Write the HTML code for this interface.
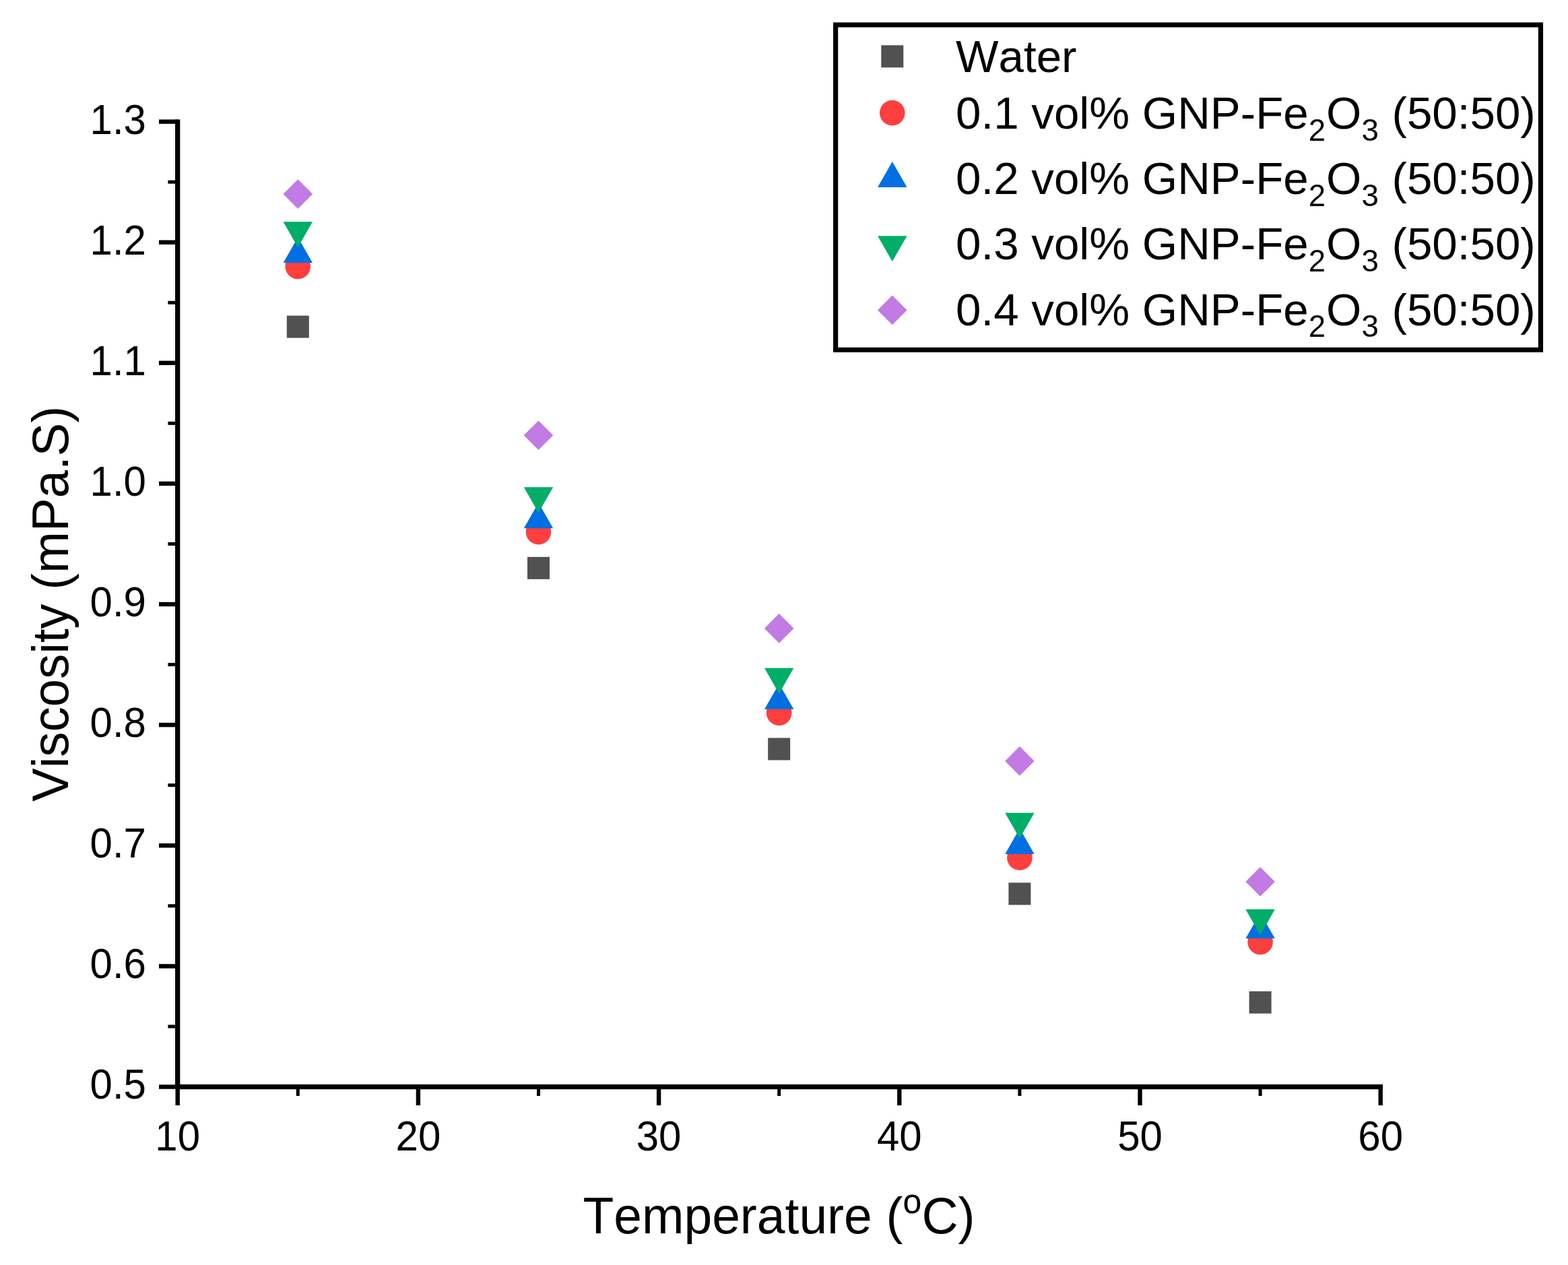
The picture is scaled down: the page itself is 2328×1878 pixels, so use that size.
<!DOCTYPE html>
<html><head><meta charset="utf-8"><title>Viscosity vs Temperature</title>
<style>
html,body{margin:0;padding:0;background:#fff;}
body{width:2328px;height:1878px;overflow:hidden;}
svg{display:block;}
text{font-family:"Liberation Sans",Arial,sans-serif;fill:#000;font-kerning:none;}
</style></head><body>
<svg width="2328" height="1878" viewBox="0 0 2328 1878">
<rect width="2328" height="1878" fill="#fff"/>
<rect x="260.05" y="177.40" width="7.3" height="1439.75" fill="#000"/>
<rect x="260.05" y="1609.85" width="1793.05" height="7.3" fill="#000"/>
<rect x="236.00" y="1610.30" width="27.70" height="6.4" fill="#000"/>
<text transform="translate(217.00,1631.40) scale(1.0,1.04)" font-size="60" text-anchor="end">0.5</text>
<rect x="236.00" y="1431.19" width="27.70" height="6.4" fill="#000"/>
<text transform="translate(217.00,1452.29) scale(1.0,1.04)" font-size="60" text-anchor="end">0.6</text>
<rect x="236.00" y="1252.08" width="27.70" height="6.4" fill="#000"/>
<text transform="translate(217.00,1273.18) scale(1.0,1.04)" font-size="60" text-anchor="end">0.7</text>
<rect x="236.00" y="1072.97" width="27.70" height="6.4" fill="#000"/>
<text transform="translate(217.00,1094.07) scale(1.0,1.04)" font-size="60" text-anchor="end">0.8</text>
<rect x="236.00" y="893.86" width="27.70" height="6.4" fill="#000"/>
<text transform="translate(217.00,914.96) scale(1.0,1.04)" font-size="60" text-anchor="end">0.9</text>
<rect x="236.00" y="714.75" width="27.70" height="6.4" fill="#000"/>
<text transform="translate(217.00,735.85) scale(1.0,1.04)" font-size="60" text-anchor="end">1.0</text>
<rect x="236.00" y="535.64" width="27.70" height="6.4" fill="#000"/>
<text transform="translate(217.00,556.74) scale(1.0,1.04)" font-size="60" text-anchor="end">1.1</text>
<rect x="236.00" y="356.53" width="27.70" height="6.4" fill="#000"/>
<text transform="translate(217.00,377.63) scale(1.0,1.04)" font-size="60" text-anchor="end">1.2</text>
<rect x="236.00" y="177.42" width="27.70" height="6.4" fill="#000"/>
<text transform="translate(217.00,198.52) scale(1.0,1.04)" font-size="60" text-anchor="end">1.3</text>
<rect x="249.40" y="1521.44" width="14.30" height="5.0" fill="#000"/>
<rect x="249.40" y="1342.34" width="14.30" height="5.0" fill="#000"/>
<rect x="249.40" y="1163.22" width="14.30" height="5.0" fill="#000"/>
<rect x="249.40" y="984.11" width="14.30" height="5.0" fill="#000"/>
<rect x="249.40" y="805.00" width="14.30" height="5.0" fill="#000"/>
<rect x="249.40" y="625.89" width="14.30" height="5.0" fill="#000"/>
<rect x="249.40" y="446.78" width="14.30" height="5.0" fill="#000"/>
<rect x="249.40" y="267.68" width="14.30" height="5.0" fill="#000"/>
<rect x="260.50" y="1613.50" width="6.4" height="27.50" fill="#000"/>
<text transform="translate(263.70,1707.50) scale(1.0,1.04)" font-size="60" text-anchor="middle">10</text>
<rect x="617.70" y="1613.50" width="6.4" height="27.50" fill="#000"/>
<text transform="translate(620.90,1707.50) scale(1.0,1.04)" font-size="60" text-anchor="middle">20</text>
<rect x="974.90" y="1613.50" width="6.4" height="27.50" fill="#000"/>
<text transform="translate(978.10,1707.50) scale(1.0,1.04)" font-size="60" text-anchor="middle">30</text>
<rect x="1332.10" y="1613.50" width="6.4" height="27.50" fill="#000"/>
<text transform="translate(1335.30,1707.50) scale(1.0,1.04)" font-size="60" text-anchor="middle">40</text>
<rect x="1689.30" y="1613.50" width="6.4" height="27.50" fill="#000"/>
<text transform="translate(1692.50,1707.50) scale(1.0,1.04)" font-size="60" text-anchor="middle">50</text>
<rect x="2046.50" y="1613.50" width="6.4" height="27.50" fill="#000"/>
<text transform="translate(2049.70,1707.50) scale(1.0,1.04)" font-size="60" text-anchor="middle">60</text>
<rect x="439.80" y="1613.50" width="5.0" height="13.50" fill="#000"/>
<rect x="797.00" y="1613.50" width="5.0" height="13.50" fill="#000"/>
<rect x="1154.20" y="1613.50" width="5.0" height="13.50" fill="#000"/>
<rect x="1511.40" y="1613.50" width="5.0" height="13.50" fill="#000"/>
<rect x="1868.60" y="1613.50" width="5.0" height="13.50" fill="#000"/>
<text transform="translate(100.50,896.50) rotate(-90) scale(0.992,1.02)" font-size="75" text-anchor="middle">Viscosity (mPa.S)</text>
<text transform="translate(1156.50,1831.20) scale(1.0,1.02)" font-size="75" text-anchor="middle">Temperature (<tspan font-size="50" dy="-29.5">o</tspan><tspan dy="29.5">C)</tspan></text>
<rect x="425.80" y="468.61" width="33" height="33" fill="#515151"/>
<rect x="783.00" y="826.83" width="33" height="33" fill="#515151"/>
<rect x="1140.20" y="1095.49" width="33" height="33" fill="#515151"/>
<rect x="1497.40" y="1310.42" width="33" height="33" fill="#515151"/>
<rect x="1854.60" y="1471.62" width="33" height="33" fill="#515151"/>
<circle cx="442.30" cy="395.55" r="18.8" fill="#FF3E3E"/>
<circle cx="799.50" cy="789.59" r="18.8" fill="#FF3E3E"/>
<circle cx="1156.70" cy="1058.26" r="18.8" fill="#FF3E3E"/>
<circle cx="1513.90" cy="1273.19" r="18.8" fill="#FF3E3E"/>
<circle cx="1871.10" cy="1398.57" r="18.8" fill="#FF3E3E"/>
<polygon points="420.55,390.31 464.05,390.31 442.30,352.31" fill="#006FE3"/>
<polygon points="777.75,784.35 821.25,784.35 799.50,746.35" fill="#006FE3"/>
<polygon points="1134.95,1053.01 1178.45,1053.01 1156.70,1015.01" fill="#006FE3"/>
<polygon points="1492.15,1267.95 1535.65,1267.95 1513.90,1229.95" fill="#006FE3"/>
<polygon points="1849.35,1393.32 1892.85,1393.32 1871.10,1355.32" fill="#006FE3"/>
<polygon points="420.55,329.15 464.05,329.15 442.30,367.15" fill="#00AE68"/>
<polygon points="777.75,723.19 821.25,723.19 799.50,761.19" fill="#00AE68"/>
<polygon points="1134.95,991.86 1178.45,991.86 1156.70,1029.86" fill="#00AE68"/>
<polygon points="1492.15,1206.79 1535.65,1206.79 1513.90,1244.79" fill="#00AE68"/>
<polygon points="1849.35,1350.08 1892.85,1350.08 1871.10,1388.08" fill="#00AE68"/>
<polygon points="442.30,266.29 464.10,288.09 442.30,309.89 420.50,288.09" fill="#C27AE4"/>
<polygon points="799.50,624.51 821.30,646.31 799.50,668.11 777.70,646.31" fill="#C27AE4"/>
<polygon points="1156.70,911.08 1178.50,932.88 1156.70,954.68 1134.90,932.88" fill="#C27AE4"/>
<polygon points="1513.90,1108.10 1535.70,1129.90 1513.90,1151.70 1492.10,1129.90" fill="#C27AE4"/>
<polygon points="1871.10,1287.21 1892.90,1309.01 1871.10,1330.81 1849.30,1309.01" fill="#C27AE4"/>
<rect x="1240.65" y="36.9" width="1046.8" height="482.5" fill="none" stroke="#000" stroke-width="7.2"/>
<rect x="1308.30" y="67.20" width="33" height="33" fill="#515151"/>
<text transform="translate(1419.00,107.20) scale(1.02,1.022)" font-size="66">Water</text>
<circle cx="1324.80" cy="167.60" r="18.8" fill="#FF3E3E"/>
<text transform="translate(1419.00,191.00) scale(1.02,1.022)" font-size="66">0.1 vol% GNP-Fe<tspan font-size="44.7" dy="17.3">2</tspan><tspan dx="1" dy="-17.3">O</tspan><tspan font-size="44.7" dy="17.3">3</tspan><tspan dx="1" dy="-17.3"> (50:50)</tspan></text>
<polygon points="1303.05,277.97 1346.55,277.97 1324.80,239.97" fill="#006FE3"/>
<text transform="translate(1419.00,288.20) scale(1.02,1.022)" font-size="66">0.2 vol% GNP-Fe<tspan font-size="44.7" dy="17.3">2</tspan><tspan dx="1" dy="-17.3">O</tspan><tspan font-size="44.7" dy="17.3">3</tspan><tspan dx="1" dy="-17.3"> (50:50)</tspan></text>
<polygon points="1303.05,350.13 1346.55,350.13 1324.80,388.13" fill="#00AE68"/>
<text transform="translate(1419.00,385.40) scale(1.02,1.022)" font-size="66">0.3 vol% GNP-Fe<tspan font-size="44.7" dy="17.3">2</tspan><tspan dx="1" dy="-17.3">O</tspan><tspan font-size="44.7" dy="17.3">3</tspan><tspan dx="1" dy="-17.3"> (50:50)</tspan></text>
<polygon points="1324.80,438.60 1346.60,460.40 1324.80,482.20 1303.00,460.40" fill="#C27AE4"/>
<text transform="translate(1419.00,482.60) scale(1.02,1.022)" font-size="66">0.4 vol% GNP-Fe<tspan font-size="44.7" dy="17.3">2</tspan><tspan dx="1" dy="-17.3">O</tspan><tspan font-size="44.7" dy="17.3">3</tspan><tspan dx="1" dy="-17.3"> (50:50)</tspan></text>
</svg></body></html>
